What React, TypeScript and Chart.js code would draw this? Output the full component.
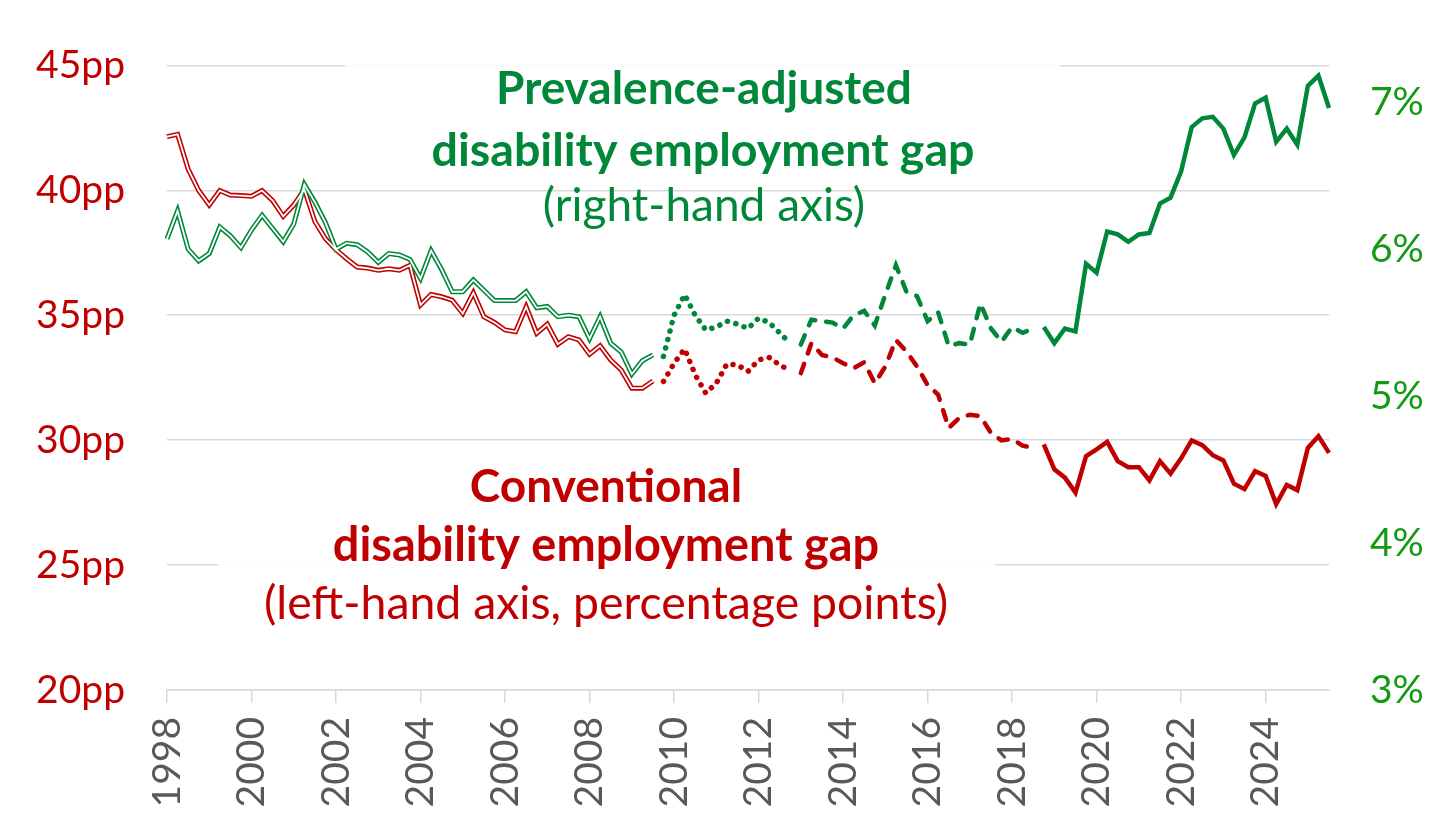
import { useEffect, useRef } from "react";
import Chart from "chart.js/auto";

// quarterly series, 1998 Q1 .. 2025 Q3
const FIRST_YEAR = 1998;
const TICK_YEARS = [1998, 2000, 2002, 2004, 2006, 2008, 2010, 2012, 2014, 2016, 2018, 2020, 2022, 2024];

// conventional gap, percentage points (left axis)
const CONVENTIONAL_GAP = [
  42.15, 42.24, 40.85, 39.99, 39.41, 39.99, 39.81, 39.79, 39.76, 39.99,
  39.59, 38.96, 39.41, 40.03, 38.75, 38.06, 37.62, 37.26, 36.93, 36.89,
  36.8, 36.86, 36.8, 37.0, 35.41, 35.83, 35.74, 35.6, 35.07, 35.9,
  34.94, 34.71, 34.41, 34.34, 35.34, 34.28, 34.64, 33.84, 34.14, 34.01,
  33.44, 33.78, 33.21, 32.81, 32.08, 32.08, 32.37, 32.35, 33.08, 33.65,
  32.62, 31.88, 32.28, 33.05, 33.01, 32.75, 33.21, 33.31, 33.01, 32.78,
  32.68, 33.88, 33.41, 33.31, 33.08, 32.88, 33.12, 32.28, 32.95, 34.01,
  33.55, 32.95, 32.21, 31.82, 30.49, 30.89, 31.02, 30.96, 30.29, 29.99,
  30.05, 29.78, 29.69, 29.83, 28.83, 28.5, 27.9, 29.36, 29.63, 29.93,
  29.16, 28.92, 28.92, 28.39, 29.16, 28.66, 29.27, 29.99, 29.8, 29.4,
  29.19, 28.26, 28.04, 28.76, 28.57, 27.44, 28.21, 28.0, 29.69, 30.16,
  29.49,
];

// prevalence-adjusted gap, % (right axis)
const ADJUSTED_GAP = [
  6.07, 6.26, 6.0, 5.92, 5.97, 6.15, 6.09, 6.01, 6.13, 6.23,
  6.14, 6.05, 6.17, 6.44, 6.32, 6.18, 6.0, 6.04, 6.03, 5.98,
  5.91, 5.97, 5.96, 5.93, 5.8, 5.99, 5.86, 5.71, 5.71, 5.79,
  5.72, 5.65, 5.65, 5.65, 5.71, 5.6, 5.61, 5.54, 5.55, 5.54,
  5.39, 5.54, 5.36, 5.3, 5.15, 5.24, 5.28, 5.27, 5.55, 5.69,
  5.55, 5.45, 5.47, 5.51, 5.49, 5.46, 5.53, 5.5, 5.43, 5.36,
  5.35, 5.52, 5.51, 5.5, 5.46, 5.55, 5.58, 5.48, 5.69, 5.89,
  5.71, 5.68, 5.51, 5.57, 5.34, 5.36, 5.35, 5.63, 5.46, 5.37,
  5.47, 5.43, 5.46, 5.47, 5.36, 5.46, 5.44, 5.9, 5.84, 6.12,
  6.1, 6.05, 6.1, 6.11, 6.31, 6.35, 6.53, 6.83, 6.89, 6.9,
  6.82, 6.64, 6.76, 6.99, 7.03, 6.73, 6.82, 6.71, 7.11, 7.18,
  6.96,
];

// last quarter index drawn in each line style
const HOLLOW_END = 46;
const DOTTED_END = 59;
const DASHED_END = 82;

const LEFT_TICKS = [20, 25, 30, 35, 40, 45];
const RIGHT_TICKS = [3, 4, 5, 6, 7];

const RED = "#C00000";
const GREEN = "#00873A";
const GREEN_TICKS = "#129A12";
const GRID = "#D9D9D9";
const FONT = "Lato, 'Open Sans', sans-serif";

const QUARTERS = CONVENTIONAL_GAP.map(
  (_, i) => `${FIRST_YEAR + Math.floor(i / 4)} Q${(i % 4) + 1}`
);

const LABEL_LINES = [
  { text: "Prevalence-adjusted", bold: true, color: GREEN, x: 704, y: 104, w: 416 },
  { text: "disability employment gap", bold: true, color: GREEN, x: 703, y: 166, w: 543 },
  { text: "(right-hand axis)", bold: false, color: GREEN, x: 704, y: 221, w: 322 },
  { text: "Conventional", bold: true, color: RED, x: 606, y: 502, w: 272 },
  { text: "disability employment gap", bold: true, color: RED, x: 606, y: 561, w: 547 },
  { text: "(left-hand axis, percentage points)", bold: false, color: RED, x: 606, y: 619, w: 685 },
];

function slice(values: number[], from: number, to: number) {
  return values.map((v, i) => (i >= from && i <= to ? v : null));
}

function seriesSets(values: number[], color: string, axis: string) {
  const common = {
    yAxisID: axis,
    pointRadius: 0,
    tension: 0,
    spanGaps: false,
    fill: false,
  };
  return [
    { ...common, data: slice(values, 0, HOLLOW_END), borderColor: color, borderWidth: 5, order: 3 },
    { ...common, data: slice(values, 0, HOLLOW_END), borderColor: "#ffffff", borderWidth: 1.8, order: 2 },
    {
      ...common,
      data: slice(values, HOLLOW_END + 1, DOTTED_END),
      borderColor: color,
      borderWidth: 5.5,
      borderDash: [0.1, 8.6],
      borderCapStyle: "round",
      order: 1,
    },
    {
      ...common,
      data: slice(values, DOTTED_END + 1, DASHED_END),
      borderColor: color,
      borderWidth: 4.5,
      borderDash: [10, 11],
      borderCapStyle: "round",
      order: 1,
    },
    { ...common, data: slice(values, DASHED_END + 1, values.length - 1), borderColor: color, borderWidth: 4.5, order: 1 },
  ];
}

const gapLabels = {
  id: "gapLabels",
  beforeDatasetsDraw(chart: Chart) {
    const ctx = chart.ctx;
    ctx.save();
    // faded boxes behind the text, as in the original
    ctx.fillStyle = "rgba(255,255,255,0.85)";
    ctx.fillRect(345, 48, 715, 132);
    ctx.fillRect(218, 456, 777, 184);
    ctx.textAlign = "center";
    ctx.textBaseline = "alphabetic";
    for (const line of LABEL_LINES) {
      const weight = line.bold ? "bold" : "normal";
      ctx.font = `${weight} 100px ${FONT}`;
      const size = (100 * line.w) / ctx.measureText(line.text).width;
      ctx.font = `${weight} ${size.toFixed(1)}px ${FONT}`;
      ctx.fillStyle = line.color;
      ctx.fillText(line.text, line.x, line.y);
    }
    ctx.restore();
  },
};

export default function App() {
  const canvasRef = useRef<HTMLCanvasElement>(null);

  useEffect(() => {
    document.body.style.margin = "0";
    if (!canvasRef.current) return;

    const chart = new Chart(canvasRef.current, {
      type: "line",
      data: {
        labels: QUARTERS,
        datasets: [
          ...seriesSets(ADJUSTED_GAP, GREEN, "y1"),
          ...seriesSets(CONVENTIONAL_GAP, RED, "y"),
        ] as any,
      },
      options: {
        animation: false,
        responsive: true,
        maintainAspectRatio: false,
        layout: { padding: { top: 62, bottom: 0, left: 0, right: 0 } },
        plugins: { legend: { display: false }, tooltip: { enabled: false } },
        scales: {
          x: {
            type: "category",
            offset: false,
            afterBuildTicks: (scale: any) => {
              scale.ticks = scale.ticks.filter((t: any) => {
                const [year, q] = QUARTERS[t.value].split(" ");
                return q === "Q1" && TICK_YEARS.includes(Number(year));
              });
            },
            afterFit: (scale: any) => {
              scale.height = 140;
            },
            ticks: {
              autoSkip: false,
              minRotation: 90,
              maxRotation: 90,
              padding: 14,
              color: "#595959",
              font: { family: FONT, size: 39 },
              callback: (value: any) => QUARTERS[value].slice(0, 4),
            },
            grid: { drawOnChartArea: false, drawTicks: true, tickLength: 13, color: GRID, lineWidth: 1.5 },
            border: { display: true, color: GRID, width: 1.5 },
          },
          y: {
            position: "left",
            min: 20,
            max: 45,
            afterBuildTicks: (scale: any) => {
              scale.ticks = LEFT_TICKS.map((value) => ({ value }));
            },
            afterFit: (scale: any) => {
              scale.width = 167;
            },
            ticks: {
              padding: 42,
              color: RED,
              font: { family: FONT, size: 39 },
              callback: (value: any) => `${value}pp`,
            },
            grid: { color: GRID, lineWidth: 1.5, drawTicks: false },
            border: { display: false },
          },
          y1: {
            position: "right",
            min: 3,
            max: 7.25,
            afterBuildTicks: (scale: any) => {
              scale.ticks = RIGHT_TICKS.map((value) => ({ value }));
            },
            afterFit: (scale: any) => {
              scale.width = 127;
            },
            ticks: {
              padding: 41,
              color: GREEN_TICKS,
              font: { family: FONT, size: 39 },
              callback: (value: any) => `${value}%`,
            },
            grid: { drawOnChartArea: false, drawTicks: false },
            border: { display: false },
          },
        },
      },
      plugins: [gapLabels],
    });

    return () => {
      chart.destroy();
    };
  }, []);

  return (
    <div style={{ position: "relative", width: 1456, height: 830, background: "#ffffff" }}>
      <canvas ref={canvasRef} role="img" aria-label="Disability employment gap, conventional and prevalence-adjusted" />
    </div>
  );
}
